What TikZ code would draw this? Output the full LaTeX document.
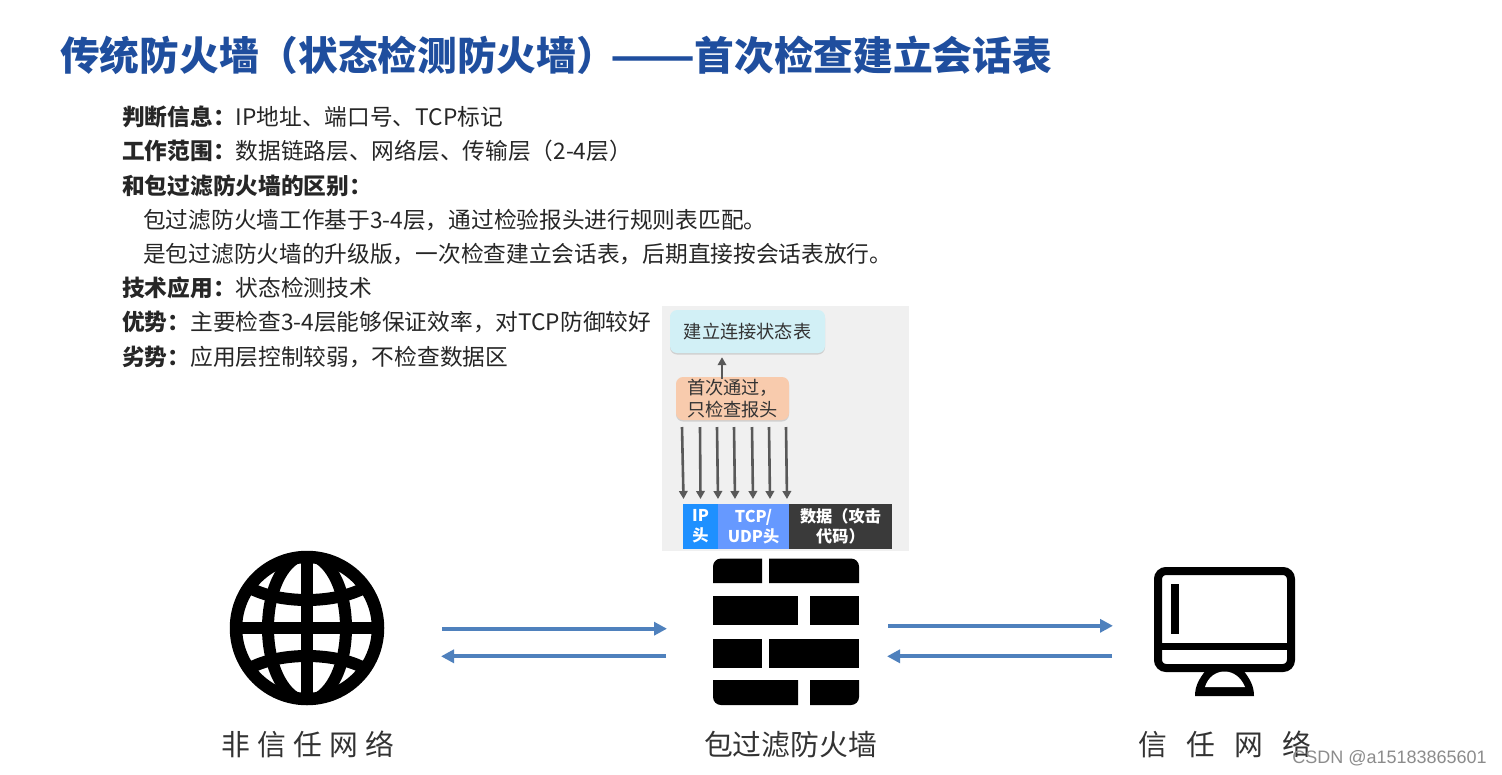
\documentclass[tikz,border=0pt]{standalone}
\usepackage{fontspec}
\setmainfont{Noto Sans CJK SC}
\newfontfamily\cjkwide[LetterSpace=25]{Noto Sans CJK SC}
\newfontfamily\cjkwider[LetterSpace=67]{Noto Sans CJK SC}
\newfontfamily\markfont{Liberation Sans}
\usetikzlibrary{arrows.meta,positioning,calc,shadows}
\definecolor{titleblue}{HTML}{1F4E9E}
\definecolor{linkblue}{HTML}{4F81BD}
\definecolor{panelgray}{HTML}{F0F0F0}
\definecolor{arrowgray}{HTML}{595959}
\definecolor{tablecyan}{HTML}{D2F0F6}
\definecolor{headorange}{HTML}{F8CBAD}
\definecolor{ipblue}{HTML}{1E90FF}
\definecolor{tcpblue}{HTML}{6699FF}
\definecolor{dataink}{HTML}{3A3A3A}
\tikzset{
  bodytext/.style={anchor=base west,inner sep=0,font=\fontsize{22.7}{26}\selectfont,text=black!85},
  iconlabel/.style={anchor=base,inner sep=0,font=\fontsize{28.8}{32}\selectfont,text=black!80},
  softbox/.style={rounded corners=7pt,inner sep=0,text=black!80,align=center,font=\fontsize{18.2}{22}\selectfont,
    drop shadow={shadow xshift=0pt,shadow yshift=-1.5pt,fill=black!30}},
  packet/.style={anchor=north west,minimum height=45pt,inner sep=0,outer sep=0,text=white,align=center,font=\fontsize{16.2}{20}\selectfont\bfseries},
  link/.style={linkblue,line width=3.8pt,-{Triangle[length=13pt,width=13pt]}},
  probe/.style={arrowgray,line width=2.6pt,-{Triangle[length=8pt,width=8.5pt]}}
}
\begin{document}
\begin{tikzpicture}[x=1pt,y=-1pt]
  \useasboundingbox (0,0) rectangle (1502,774);
  \fill [white] (0,0) rectangle (1502,774);
  \node (title) [anchor=base west,inner sep=0,text=titleblue,font=\fontsize{39.7}{44}\selectfont\bfseries] at (60,70) {传统防火墙（状态检测防火墙）\hspace{-6pt}\scalebox{1.25}[1]{——}\hspace{-0.5pt}首次检查建立会话表};
  % text lines
  \node (judge) [bodytext] at (122,125) {\textbf{判断信息：}IP地址、端口号、TCP标记};
  \node (scope) [bodytext] at (122,159) {\textbf{工作范围：}数据链路层、网络层、传输层（2-4层）};
  \node (diff) [bodytext] at (122,194) {\textbf{和包过滤防火墙的区别：}};
  \node (diffa) [bodytext] at (143,228) {包过滤防火墙工作基于3-4层，通过检验报头进行规则表匹配。};
  \node (diffb) [bodytext] at (143,262) {是包过滤防火墙的升级版，一次检查建立会话表，后期直接按会话表放行。};
  \node (tech) [bodytext] at (122,296) {\textbf{技术应用：}状态检测技术};
  \node (pros) [bodytext] at (122,330) {\textbf{优势：}主要检查3-4层能够保证效率，对TCP防御较好};
  \node (cons) [bodytext] at (122,365) {\textbf{劣势：}应用层控制较弱，不检查数据区};
  % gray panel
  \fill [panelgray] (662,306) rectangle (909,551);
  \node (statetable) [softbox,fill=tablecyan,minimum width=155pt,minimum height=43pt] at (747.5,331.5) {建立连接状态表};
  \node (headcheck) [softbox,fill=headorange,minimum width=113pt,minimum height=43pt] at (732.5,398.5) {首次通过，\\只检查报头};
  \draw [probe] ([xshift=-10.5pt,yshift=-2pt]headcheck.north) -- ([xshift=-25.5pt,yshift=-4pt]statetable.south);
  \foreach \i/\xa/\xb in {1/682/683.5,2/700/700.5,3/717/718,4/734/735,5/752/753,6/769/770,7/786/787} {
    \coordinate (top\i) at (\xa,427);
    \coordinate (tip\i) at (\xb,499);
    \draw [probe] (top\i) -- (tip\i);
  }
  \node (iphead) [packet,fill=ipblue,minimum width=35pt] at (683,504) {IP\\头};
  \node (tcphead) [packet,fill=tcpblue,minimum width=71pt,right=0pt of iphead] {TCP/\\UDP头};
  \node (payload) [packet,fill=dataink,minimum width=103pt,right=0pt of tcphead] {数据（攻击\\代码）};
  % globe
  \begin{scope}[line width=12pt,black]
    \draw [line width=12.5pt] (307,628) circle (71);
    \clip (307,628) circle (72);
    \draw (307,628) ellipse (39 and 73);
    \draw (230,628) -- (384,628);
    \draw (307,552) -- (307,704);
    \draw (245,585) .. controls (275,605) and (339,605) .. (369,585);
    \draw (245,671) .. controls (275,651) and (339,651) .. (369,671);
  \end{scope}
  % brick wall
  \fill (713,583) [rounded corners=8pt] -- (713,558.5) [sharp corners] -- (762,558.5) -- (762,583) -- cycle;
  \fill (769,583) -- (769,558.5) [rounded corners=8pt] -- (859,558.5) [sharp corners] -- (859,583) -- cycle;
  \fill (713,596) rectangle (798,625);
  \fill (810,596) rectangle (859,625);
  \fill (713,639) rectangle (762,668);
  \fill (769,639) rectangle (859,668);
  \fill (713,680) [rounded corners=8pt] -- (713,705) [sharp corners] -- (798,705) -- (798,680) -- cycle;
  \fill (810,680) -- (810,705) [rounded corners=8pt] -- (859,705) [sharp corners] -- (859,680) -- cycle;
  % monitor
  \draw [line width=8pt,rounded corners=8pt] (1158,571) rectangle (1291,668);
  \draw [line width=7pt] (1156,646) -- (1293,646);
  \fill (1170.5,584) rectangle (1179,634);
  \fill (1195,696) .. controls (1195,686) and (1199,679) .. (1206,670) -- (1243,670) .. controls (1250,679) and (1254,686) .. (1254,696) -- cycle;
  \fill [white] (1205,687) .. controls (1208,677) and (1216,671.5) .. (1224.5,671.5) .. controls (1233,671.5) and (1241,677) .. (1245,687) -- cycle;
  % links
  \coordinate (globeouta) at (442,628.7);
  \coordinate (wallina) at (667,628.7);
  \coordinate (wallouta) at (666,656.3);
  \coordinate (globeina) at (441,656.3);
  \coordinate (walloutb) at (888,625.8);
  \coordinate (pcin) at (1113,625.8);
  \coordinate (pcout) at (1112,656.3);
  \coordinate (wallinb) at (887,656.3);
  \draw [link] (globeouta) -- (wallina);
  \draw [link] (wallouta) -- (globeina);
  \draw [link] (walloutb) -- (pcin);
  \draw [link] (pcout) -- (wallinb);
  % labels
  \node (untrusted) [iconlabel] at (307.5,755) {\cjkwide 非信任网络};
  \node (wallname) [iconlabel] at (790.5,755) {包过滤防火墙};
  \node (trusted) [iconlabel] at (1225,755) {\cjkwider 信任网络};
  \node (stamp) [anchor=base east,inner sep=0,text=black!45,font=\fontsize{18}{20}\selectfont\markfont] at (1487,763) {CSDN @a15183865601};
\end{tikzpicture}
\end{document}
